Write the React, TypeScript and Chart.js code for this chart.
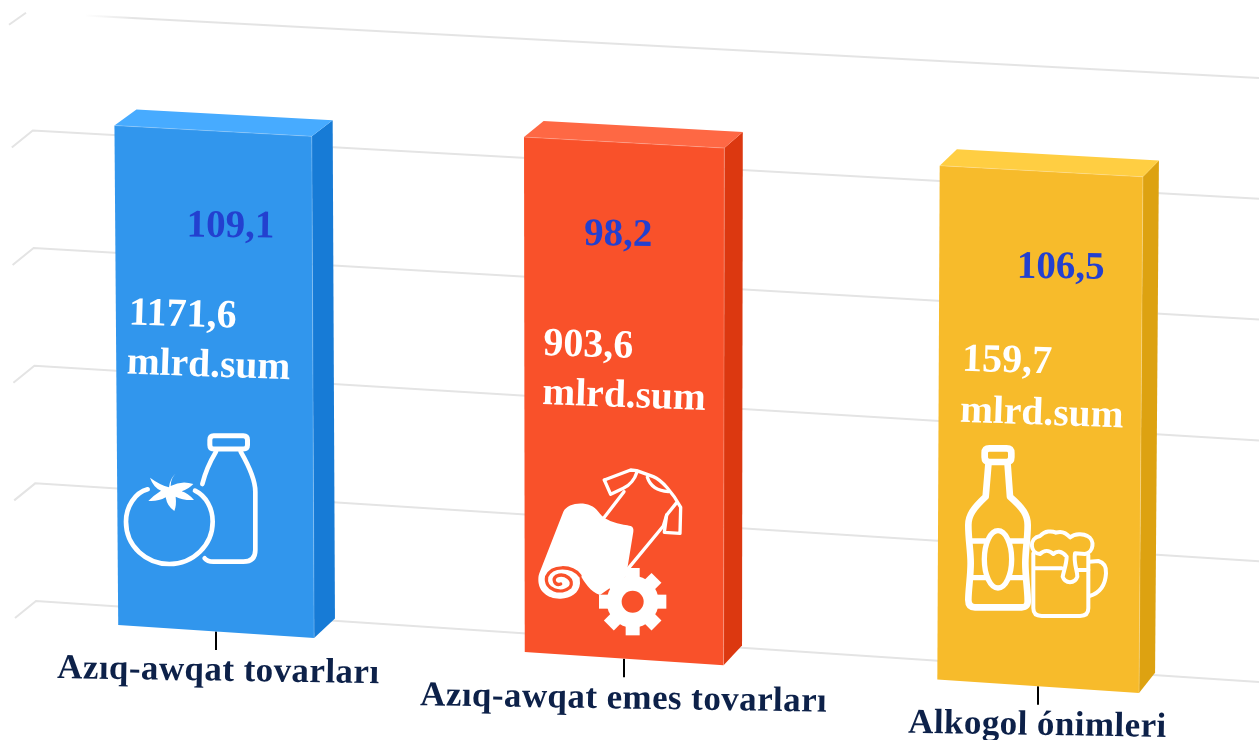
import React, { useEffect, useRef } from "react";
import { Chart, registerables } from "chart.js";

Chart.register(...registerables);

// ---- data ----
const categories = ["Azıq-awqat tovarları", "Azıq-awqat emes tovarları", "Alkogol ónimleri"];
const barHeights = [106, 108.3, 107.1];
const growthLabels = ["109,1", "98,2", "106,5"];
const volumeLabels = ["1171,6", "903,6", "159,7"];
const unitLabel = "mlrd.sum";
const axisMax = 125;
const axisStep = 25;

// ---- styles ----
const frontColors = ["#3196ED", "#F9512A", "#F7BB2B"];
const sideColors = ["#177BD6", "#DC3810", "#DDA211"];
const topColors = ["#47ABFF", "#FE6844", "#FFCE42"];
const gridColor = "#E4E4E4";
const growthColor = "#2340CF";
const categoryColor = "#0D2149";
const W = 1259;
const H = 740;
const SERIF = '"Liberation Serif", serif';

// text offsets from each bar's top-left front corner
const growthOffset = [[72, 111], [60, 108], [77, 112]];
const volumeOffset = [[14, 199], [19, 218], [22, 205]];
const unitOffset = [[12, 248], [18, 267], [20, 256]];
// category label: start x offset from tick, baseline offset from tick foot
const categoryOffset = [[-159, 28], [-204, 28], [-130, 28]];
const categorySpacing = "0.42px";

// ---- perspective of the front plane and the back wall ----
function warpX(x: number) {
  const u = x / W;
  return 14.25 + 1206 * u + 27 * u * u;
}
function front(x: number, v: number): [number, number] {
  const X = warpX(x);
  const Y = 625 + 0.0665 * (X - 118) - v * (588 + 0.013 * (X - 36));
  return [X + (X - 624) * 0.0075 * (v / 0.85), Y];
}
function depth(p: [number, number]): [number, number] {
  const dx = 22 - ((p[0] - 114) * 6) / 1030;
  const dy = -16 - ((p[1] - 127) * 4) / 560;
  return [p[0] + dx, p[1] + dy];
}
function wall(X: number, v: number) {
  const t = (X - 36) / 1223;
  const bottom = 601 + 81 * t;
  const top = 13 + 65 * t;
  return bottom + v * (top - bottom);
}

function poly(ctx: CanvasRenderingContext2D, pts: [number, number][], fill: string) {
  ctx.beginPath();
  pts.forEach((p, i) => (i ? ctx.lineTo(p[0], p[1]) : ctx.moveTo(p[0], p[1])));
  ctx.closePath();
  ctx.fillStyle = fill;
  ctx.fill();
}

function slanted(
  ctx: CanvasRenderingContext2D,
  text: string,
  x: number,
  y: number,
  font: string,
  color: string,
  slope: number,
  spacing = "0px"
) {
  ctx.save();
  ctx.translate(x, y);
  ctx.rotate(Math.atan(slope));
  ctx.font = font;
  (ctx as any).letterSpacing = spacing;
  ctx.fillStyle = color;
  ctx.textAlign = "left";
  ctx.textBaseline = "alphabetic";
  ctx.fillText(text, 0, 0);
  ctx.restore();
}

// ---- pictograms (traced outlines in a 3x local grid) ----
function iconSpace(ctx: CanvasRenderingContext2D, ox: number, oy: number, draw: () => void) {
  ctx.save();
  ctx.translate(ox, oy);
  ctx.scale(1 / 3, 1 / 3);
  ctx.strokeStyle = "#fff";
  ctx.fillStyle = "#fff";
  ctx.lineCap = "round";
  ctx.lineJoin = "round";
  draw();
  ctx.restore();
}
function stroke(ctx: CanvasRenderingContext2D, d: string, lw: number) {
  ctx.lineWidth = lw;
  ctx.stroke(new Path2D(d));
}

function foodIcon(ctx: CanvasRenderingContext2D) {
  iconSpace(ctx, 0, 400, () => {
    stroke(ctx, "M443,268 C405,278 378,320 378,365 C378,440 440,492 508,492 C580,492 638,435 638,365 C638,325 618,288 585,272", 14);
    ctx.fill(new Path2D("M528,220 Q512,235 512,258 Q545,240 580,252 Q565,268 545,274 Q565,280 582,300 Q550,302 527,290 Q530,315 523,333 Q502,320 497,292 Q475,305 445,303 Q462,285 483,272 Q460,262 450,233 Q480,255 507,262 Q510,235 528,220 Z"));
    stroke(ctx, "M641,107.5 L730,107.5 Q742.5,107.5 742.5,120 L742.5,135 Q742.5,147 730,147 L641,147 Q629.5,147 629.5,135 L629.5,120 Q629.5,107.5 641,107.5 Z", 15);
    stroke(ctx, "M648,155 C630,185 615,220 607,252", 14);
    stroke(ctx, "M722,155 C745,195 766,240 766,275 L766,450 Q766,485 730,485 L640,485 Q622,485 614,475", 14);
  });
}

function textileIcon(ctx: CanvasRenderingContext2D, bg: string) {
  iconSpace(ctx, 420, 400, () => {
    stroke(ctx, "M553,240 L632,210 L650,212 L700,230 C725,240 760,280 782,322 L780,400 L733,397 L740,345 L770,308", 10);
    stroke(ctx, "M553,240 L572,283 L610,265 C630,255 645,235 650,218", 10);
    stroke(ctx, "M612,275 L553,352", 10);
    stroke(ctx, "M740,345 L730,378 L625,505", 10);
    stroke(ctx, "M682,232 Q695,272 745,275", 10);
    ctx.fill(new Path2D("M430,335 C445,305 510,300 535,335 C560,370 610,372 632,378 Q642,382 640,395 L618,530 L540,585 C510,575 495,550 478,520 L480,550 C478,580 450,597 420,596 C385,597 355,575 355,540 C355,530 356,526 358,520 L430,335 Z"));
    ctx.save();
    ctx.strokeStyle = bg;
    stroke(ctx, "M480,527 C455,495 395,495 380,530 C372,570 425,585 450,562 C465,540 435,518 410,528 C395,538 405,558 422,552", 10);
    ctx.restore();
    // gear
    ctx.save();
    ctx.translate(638, 605);
    ctx.beginPath();
    ctx.arc(0, 0, 78, 0, Math.PI * 2);
    ctx.fill();
    for (let i = 0; i < 8; i++) {
      ctx.save();
      ctx.rotate((i * Math.PI) / 4);
      ctx.fillRect(-21, -101, 42, 40);
      ctx.restore();
    }
    ctx.fillStyle = bg;
    ctx.beginPath();
    ctx.arc(0, 0, 33, 0, Math.PI * 2);
    ctx.fill();
    ctx.restore();
  });
}

function beerIcon(ctx: CanvasRenderingContext2D) {
  iconSpace(ctx, 840, 400, () => {
    stroke(ctx, "M448,145 L500,145 Q514,145 514,159 L514,172 Q514,186 500,186 L448,186 Q434,186 434,172 L434,159 Q434,145 448,145 Z", 20);
    stroke(ctx, "M445,195 L437,290 C400,325 385,345 385,375 C385,420 392,450 392,490 C392,530 385,570 385,600 Q385,622 405,622 L545,622 Q565,622 563,600 C563,570 556,530 556,490 C556,450 563,420 563,375 C563,345 550,325 510,290 L503,195", 20);
    ctx.beginPath();
    ctx.ellipse(474, 478, 41, 86, 0, 0, Math.PI * 2);
    ctx.lineWidth = 16;
    ctx.stroke();
    stroke(ctx, "M395,423 L436,423 M512,423 L553,423 M395,533 L436,533 M512,533 L553,533", 16);
    stroke(ctx, "M580,460 L580,625 Q580,648 605,648 L720,648 Q745,648 745,625 L745,465", 12);
    stroke(ctx, "M748,485 L775,483 Q800,490 798,520 Q795,575 748,588", 12);
    stroke(ctx, "M585,505 L665,505 M712,510 L745,510", 12);
    stroke(ctx, "M600,462 C570,460 565,415 600,408 C615,392 635,392 648,398 C665,392 680,400 690,412 C705,400 730,400 742,408 C765,418 762,458 735,462 L705,460 C700,490 712,510 712,530 C705,552 675,552 668,530 C672,510 680,490 680,470 C665,452 650,452 640,462 C628,450 612,450 600,462 Z", 12);
  });
}

// ---- the perspective plugin: every mark comes from the chart's scales ----
const perspective = {
  id: "perspective",
  beforeDatasetsDraw(chart: any) {
    const ctx: CanvasRenderingContext2D = chart.ctx;
    const yScale = chart.scales.y;
    const area = chart.chartArea;
    const frac = (py: number) => (area.bottom - py) / (area.bottom - area.top);

    // back wall + side wall grid lines
    ctx.save();
    ctx.lineWidth = 2;
    yScale.ticks.forEach((t: any) => {
      const v = frac(yScale.getPixelForValue(t.value));
      const x0 = 36 - 4 * v;
      const y0 = wall(x0, v);
      ctx.strokeStyle = gridColor;
      ctx.beginPath();
      if (v > 0.99) {
        ctx.moveTo(x0 - 23, y0 + 12);
        ctx.lineTo(x0 - 6, y0);
      } else {
        ctx.moveTo(x0 - 21, y0 + 17);
        ctx.lineTo(x0, y0);
      }
      if (v <= 0.99) ctx.lineTo(W, wall(W, v));
      ctx.stroke();
      if (v > 0.99) {
        const g = ctx.createLinearGradient(85, 0, 135, 0);
        g.addColorStop(0, "#ffffff");
        g.addColorStop(1, gridColor);
        ctx.strokeStyle = g;
        ctx.beginPath();
        ctx.moveTo(85, wall(85, v));
        ctx.lineTo(W, wall(W, v));
        ctx.stroke();
      }
    });
    ctx.restore();

    // bars
    const meta = chart.getDatasetMeta(0);
    meta.data.forEach((bar: any, i: number) => {
      const left = bar.x - bar.width / 2;
      const right = bar.x + bar.width / 2;
      const vTop = frac(bar.y);
      const vBase = frac(bar.base);
      const fl = front(left, vBase);
      const fr = front(right, vBase);
      const tl = front(left, vTop);
      const tr = front(right, vTop);
      const footC = front(bar.x, vBase);

      // x-axis tick
      ctx.save();
      ctx.strokeStyle = "#000";
      ctx.lineWidth = 2;
      ctx.beginPath();
      ctx.moveTo(footC[0], footC[1]);
      ctx.lineTo(footC[0], footC[1] + 18.5);
      ctx.stroke();
      ctx.restore();

      poly(ctx, [fr, tr, depth(tr), depth(fr)], sideColors[i]);
      poly(ctx, [tl, tr, depth(tr), depth(tl)], topColors[i]);
      poly(ctx, [fl, fr, tr, tl], frontColors[i]);

      // light edges of the front face
      ctx.save();
      ctx.strokeStyle = "rgba(255,255,255,0.22)";
      ctx.lineWidth = 1;
      ctx.beginPath();
      ctx.moveTo(tl[0], tl[1]);
      ctx.lineTo(tr[0], tr[1]);
      ctx.lineTo(fr[0], fr[1]);
      ctx.stroke();
      ctx.restore();

      // texts on the bar
      slanted(ctx, growthLabels[i], tl[0] + growthOffset[i][0], tl[1] + growthOffset[i][1], `bold 39px ${SERIF}`, growthColor, 0.012);
      slanted(ctx, volumeLabels[i], tl[0] + volumeOffset[i][0], tl[1] + volumeOffset[i][1], `bold 40px ${SERIF}`, "#fff", 0.03);
      slanted(ctx, unitLabel, tl[0] + unitOffset[i][0], tl[1] + unitOffset[i][1], `bold 39.5px ${SERIF}`, "#fff", 0.035);

      // category labels
      slanted(
        ctx,
        categories[i],
        footC[0] + categoryOffset[i][0],
        footC[1] + 18.5 + categoryOffset[i][1],
        `bold 35px ${SERIF}`,
        categoryColor,
        0.016,
        categorySpacing
      );
    });

    foodIcon(ctx);
    textileIcon(ctx, frontColors[1]);
    beerIcon(ctx);

    return false;
  },
};

export default function App() {
  const ref = useRef<HTMLCanvasElement>(null);
  useEffect(() => {
    if (!ref.current) return;
    const chart = new Chart(ref.current, {
      type: "bar",
      data: {
        labels: categories,
        datasets: [{ data: barHeights, backgroundColor: frontColors, barThickness: 203 }],
      },
      options: {
        responsive: false,
        animation: false,
        layout: { padding: 0 },
        plugins: { legend: { display: false }, tooltip: { enabled: false } },
        scales: {
          x: { display: false },
          y: { display: false, min: 0, max: axisMax, ticks: { stepSize: axisStep } },
        },
      },
      plugins: [perspective],
    } as any);
    return () => chart.destroy();
  }, []);
  return (
    <canvas
      ref={ref}
      width={W}
      height={H}
      style={{ position: "absolute", left: 0, top: 0, width: W, height: H, background: "#fff" }}
    />
  );
}
